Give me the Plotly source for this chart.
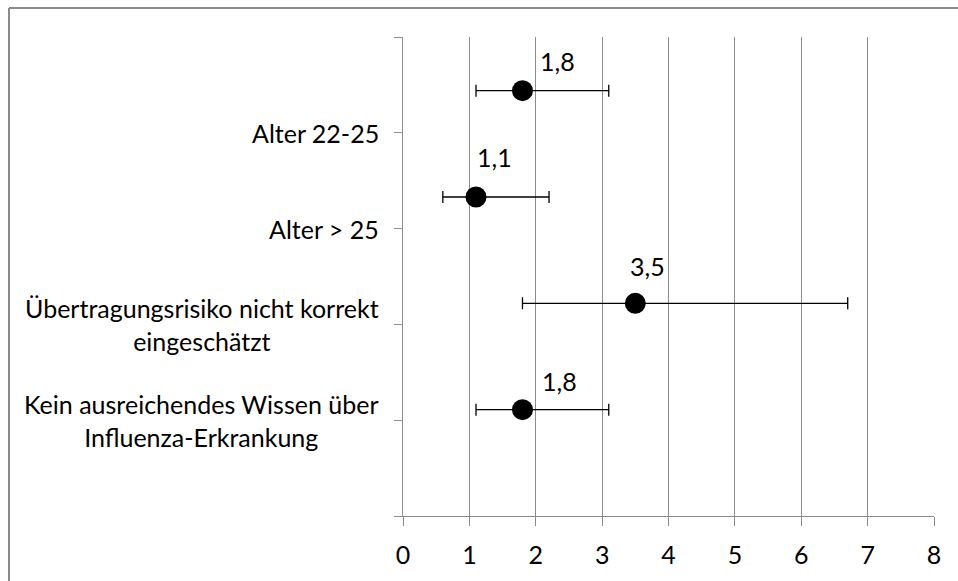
import plotly.graph_objects as go

categories = [
    "Alter 22-25",
    "Alter > 25",
    "Übertragungsrisiko nicht korrekt<br>eingeschätzt",
    "Kein ausreichendes Wissen über<br>Influenza-Erkrankung",
]
category_ticks = [4, 3, 2, 1]

odds_ratio = [1.8, 1.1, 3.5, 1.8]
ci_lower = [1.1, 0.6, 1.8, 1.1]
ci_upper = [3.1, 2.2, 6.7, 3.1]
point_y = [4.44, 3.33, 2.22, 1.11]

x_ticks = [0, 1, 2, 3, 4, 5, 6, 7, 8]
y_ticks = [0, 1, 2, 3, 4, 5]

# style: per-label pixel offsets of the value labels (manually placed in original)
LABEL_XSHIFT = [16, -1, -7, 18]
LABEL_YSHIFT = [13, 23, 20, 12]

FONT = "Lato"
FS = 25
GRID = "#8c8c8c"

err_plus = [u - v for u, v in zip(ci_upper, odds_ratio)]
err_minus = [v - l for v, l in zip(odds_ratio, ci_lower)]
labels = [f"{v:.1f}".replace(".", ",") for v in odds_ratio]

fig = go.Figure()
fig.add_trace(go.Scatter(
    x=odds_ratio, y=point_y, mode="markers",
    marker=dict(size=21, color="black"),
    error_x=dict(type="data", array=err_plus, arrayminus=err_minus,
                 color="black", thickness=1.3, width=6),
    showlegend=False, hoverinfo="skip",
))

annotations = []
for v, yv, t, xs, ys in zip(odds_ratio, point_y, labels, LABEL_XSHIFT, LABEL_YSHIFT):
    annotations.append(dict(
        x=v, y=yv, xref="x", yref="y", text=t, showarrow=False,
        xanchor="left", yanchor="bottom", xshift=xs, yshift=ys,
        font=dict(family=FONT, size=FS, color="black"),
    ))
for c, tv in zip(categories, category_ticks):
    annotations.append(dict(
        x=0, y=tv, xref="paper", yref="y", text=c, showarrow=False,
        xanchor="right", yanchor="middle", align="center", xshift=-22,
        font=dict(family=FONT, size=FS, color="black"),
    ))

W, H = 958, 581
L, R, T, B = 403, 24, 37, 63
pw, ph = W - L - R, H - T - B

def px_x(p):
    return (p - L) / pw

def px_y(p):
    return (H - B - p) / ph

fig.add_shape(type="line", xref="paper", yref="paper",
              x0=px_x(9), x1=px_x(990), y0=px_y(8), y1=px_y(8),
              line=dict(color="#8a8a8a", width=2))
fig.add_shape(type="line", xref="paper", yref="paper",
              x0=px_x(9), x1=px_x(9), y0=px_y(8), y1=px_y(620),
              line=dict(color="#8a8a8a", width=2))

fig.update_layout(
    width=W, height=H,
    margin=dict(l=L, r=R, t=T, b=B),
    paper_bgcolor="white", plot_bgcolor="white",
    annotations=annotations,
    font=dict(family=FONT, size=FS, color="black"),
    xaxis=dict(
        range=[0, 8], tickvals=x_ticks, showgrid=True, gridcolor=GRID, gridwidth=1,
        showline=True, linecolor=GRID, linewidth=1, zeroline=False,
        ticks="outside", ticklen=9, tickcolor=GRID, ticklabelstandoff=8,
        tickfont=dict(family=FONT, size=FS, color="black"),
    ),
    yaxis=dict(
        range=[0, 5], tickvals=y_ticks, ticktext=[""] * len(y_ticks),
        showgrid=False, showline=True, linecolor=GRID, linewidth=1, zeroline=False,
        ticks="outside", ticklen=8, tickcolor=GRID,
    ),
)

fig.write_html(
    "out.html",
    config={"displayModeBar": False},
    post_script="document.body.style.margin='0';document.body.style.overflow='hidden';",
)
